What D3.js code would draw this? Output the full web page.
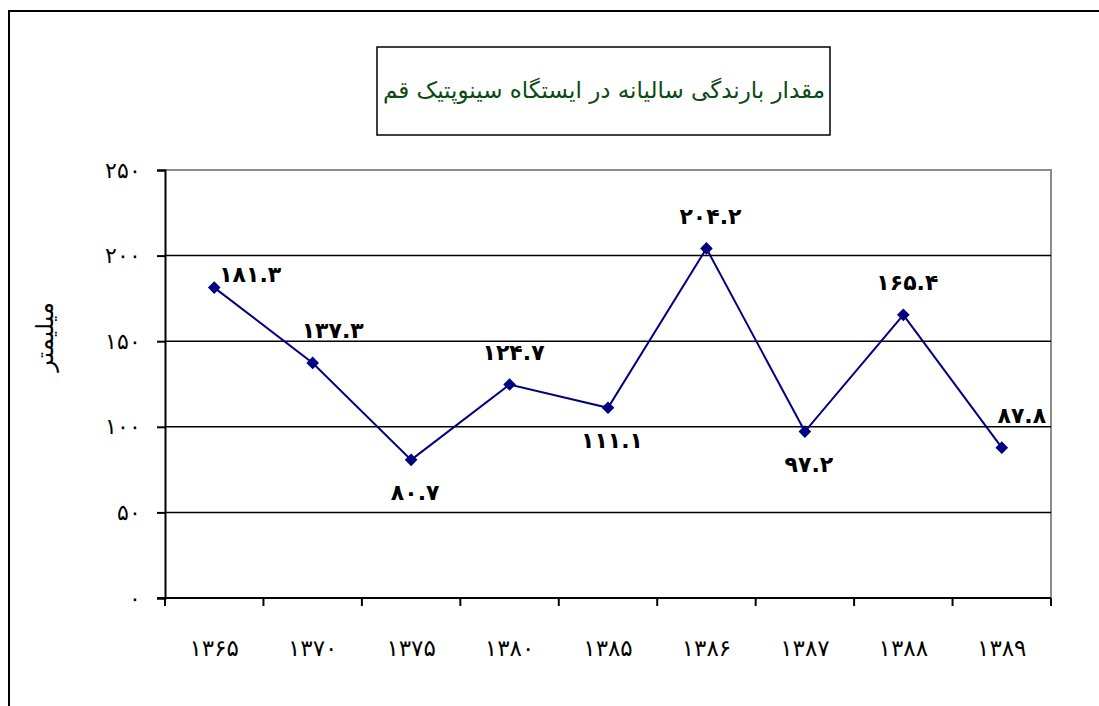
<!DOCTYPE html>
<html>
<head>
<meta charset="utf-8">
<script src="https://cdn.jsdelivr.net/npm/d3@7.9.0/dist/d3.min.js"></script>
<style>
  body { margin: 0; background: #fff; }
  svg { display: block; font-family: "DejaVu Sans", sans-serif; }
</style>
</head>
<body>
<svg id="chart" width="1099" height="706"></svg>
<script>
const years = ["1365", "1370", "1375", "1380", "1385", "1386", "1387", "1388", "1389"];
const rainfall = [181.3, 137.3, 80.7, 124.7, 111.1, 204.2, 97.2, 165.4, 87.8];
const yTicks = [0, 50, 100, 150, 200, 250];
// where each value label sits relative to its point
const labelPlace = ["right", "aboveRight", "below", "above", "below", "above", "below", "above", "aboveRight"];
const title = "مقدار بارندگی سالیانه در ایستگاه سینوپتیک قم";
const yTitle = "میلیمتر";

const faDigits = "۰۱۲۳۴۵۶۷۸۹";
const toFa = (s) => String(s).replace(/[0-9]/g, (d) => faDigits[+d]);

const svg = d3.select("#chart");
const margin = { left: 165, right: 1051, top: 170, bottom: 598 };

// outer chart frame (open at right and bottom, as cropped)
svg.append("path")
  .attr("d", "M9,706 V11 H1099")
  .attr("fill", "none")
  .attr("stroke", "#000")
  .attr("stroke-width", 2);

// title box
svg.append("rect")
  .attr("x", 377).attr("y", 47).attr("width", 453).attr("height", 88)
  .attr("fill", "#fff").attr("stroke", "#000").attr("stroke-width", 1.5);
svg.append("text")
  .attr("x", 604).attr("y", 90)
  .attr("text-anchor", "middle")
  .attr("dominant-baseline", "central")
  .attr("direction", "rtl")
  .attr("font-size", 23)
  .attr("fill", "#0b4a12")
  .text(title);

const x = d3.scaleBand().domain(years).range([margin.left, margin.right]);
const y = d3.scaleLinear().domain([0, 250]).range([margin.bottom, margin.top]);

// plot border (top / right grey)
svg.append("path")
  .attr("d", `M${margin.left},${margin.top} H${margin.right} V${margin.bottom}`)
  .attr("fill", "none")
  .attr("stroke", "#8c8c8c")
  .attr("stroke-width", 2);

// gridlines
svg.append("g")
  .selectAll("line")
  .data(yTicks.filter((t) => t > 0 && t < 250))
  .join("line")
  .attr("x1", margin.left).attr("x2", margin.right)
  .attr("y1", (d) => y(d)).attr("y2", (d) => y(d))
  .attr("stroke", "#000").attr("stroke-width", 1.5);

// y axis
const yAxis = svg.append("g")
  .attr("transform", `translate(${margin.left},0)`)
  .call(d3.axisLeft(y).tickValues(yTicks).tickSize(8).tickPadding(16).tickFormat((d) => toFa(d)));
yAxis.select(".domain").attr("stroke-width", 2);
yAxis.selectAll(".tick line").attr("stroke-width", 2);
yAxis.selectAll("text").attr("font-size", 22).attr("fill", "#000").attr("letter-spacing", 4);

// x axis with ticks on band boundaries
const xAxisG = svg.append("g");
xAxisG.append("line")
  .attr("x1", margin.left - 8).attr("x2", margin.right)
  .attr("y1", margin.bottom).attr("y2", margin.bottom)
  .attr("stroke", "#000").attr("stroke-width", 2);
const bounds = years.map((d) => x(d)).concat([x(years[years.length - 1]) + x.bandwidth()]);
xAxisG.selectAll("line.tick")
  .data(bounds)
  .join("line")
  .attr("class", "tick")
  .attr("x1", (d) => d).attr("x2", (d) => d)
  .attr("y1", margin.bottom).attr("y2", margin.bottom + 8)
  .attr("stroke", "#000").attr("stroke-width", 2);
xAxisG.selectAll("text")
  .data(years)
  .join("text")
  .attr("x", (d) => x(d) + x.bandwidth() / 2)
  .attr("y", 648)
  .attr("text-anchor", "middle")
  .attr("dominant-baseline", "central")
  .attr("font-size", 23)
  .attr("letter-spacing", 3)
  .text((d) => toFa(d));

// y axis title
svg.append("text")
  .attr("transform", "translate(45,337) rotate(-90)")
  .attr("text-anchor", "middle")
  .attr("dominant-baseline", "central")
  .attr("direction", "rtl")
  .attr("font-size", 24)
  .text(yTitle);

const cx = (i) => x(years[i]) + x.bandwidth() / 2;

// line
svg.append("path")
  .datum(rainfall)
  .attr("d", d3.line().x((d, i) => cx(i)).y((d) => y(d)))
  .attr("fill", "none")
  .attr("stroke", "#000080")
  .attr("stroke-width", 2);

// diamond markers
svg.append("g")
  .selectAll("path")
  .data(rainfall)
  .join("path")
  .attr("d", d3.symbol(d3.symbolSquare, 80))
  .attr("transform", (d, i) => `translate(${cx(i)},${y(d)}) rotate(45)`)
  .attr("fill", "#000080");

// value labels
const offsets = {
  right: [36, -13],
  aboveRight: [20, -32],
  above: [4, -32],
  below: [4, 33]
};
svg.append("g")
  .selectAll("text")
  .data(rainfall)
  .join("text")
  .attr("x", (d, i) => cx(i) + offsets[labelPlace[i]][0])
  .attr("y", (d, i) => y(d) + offsets[labelPlace[i]][1])
  .attr("text-anchor", "middle")
  .attr("dominant-baseline", "central")
  .attr("font-size", 22)
  .attr("font-weight", "bold")
  .attr("letter-spacing", -1.8)
  .text((d) => toFa(d.toFixed(1)));
</script>
</body>
</html>
